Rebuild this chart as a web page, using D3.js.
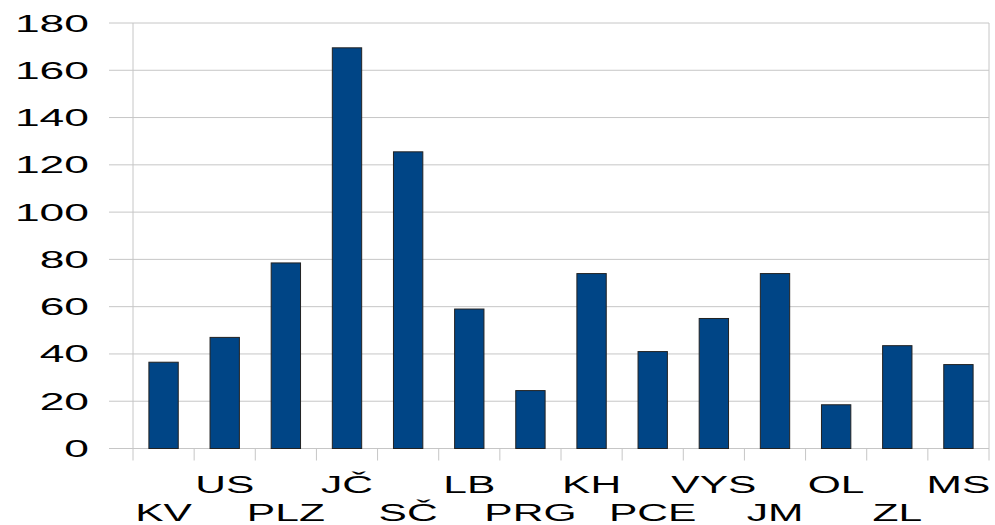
<!DOCTYPE html>
<html>
<head>
<meta charset="utf-8">
<script src="https://cdn.jsdelivr.net/npm/d3@7"></script>
<style>
  html, body { margin: 0; padding: 0; background: #fff; }
  svg { display: block; }
  text { font-family: "Liberation Sans", Arial, sans-serif; fill: #000; }
</style>
</head>
<body>
<svg id="chart"></svg>
<script>
const width = 995;
const height = 525;

const regions = ["KV", "US", "PLZ", "JČ", "SČ", "LB", "PRG", "KH", "PCE", "VYS", "JM", "OL", "ZL", "MS"];
const counts = [36.5, 47, 78.5, 169.5, 125.5, 59, 24.5, 74, 41, 55, 74, 18.5, 43.5, 35.5];
const yTicks = [0, 20, 40, 60, 80, 100, 120, 140, 160, 180];

const plotLeft = 133;
const plotRight = 989;
const plotTop = 23;
const plotBottom = 448.5;

const svg = d3.select("#chart").attr("width", width).attr("height", height);

const x = d3.scaleBand().domain(regions).range([plotLeft, plotRight]).paddingInner(0.52).paddingOuter(0.26);
const band = d3.scaleBand().domain(regions).range([plotLeft, plotRight]);
const y = d3.scaleLinear().domain([0, 180]).range([plotBottom, plotTop]);

// gridlines
svg.append("g")
  .selectAll("line")
  .data(yTicks)
  .join("line")
  .attr("x1", plotLeft - 24)
  .attr("x2", plotRight)
  .attr("y1", (d) => y(d))
  .attr("y2", (d) => y(d))
  .attr("stroke", "#c6c6c6")
  .attr("stroke-width", 1);

// frame lines
svg.append("line")
  .attr("x1", plotLeft).attr("x2", plotLeft)
  .attr("y1", plotTop).attr("y2", plotBottom + 12)
  .attr("stroke", "#c6c6c6");
svg.append("line")
  .attr("x1", plotRight).attr("x2", plotRight)
  .attr("y1", plotTop).attr("y2", plotBottom + 12)
  .attr("stroke", "#c6c6c6");

// category ticks
svg.append("g")
  .selectAll("line")
  .data(regions.slice(1))
  .join("line")
  .attr("x1", (d) => band(d))
  .attr("x2", (d) => band(d))
  .attr("y1", plotBottom)
  .attr("y2", plotBottom + 12)
  .attr("stroke", "#c6c6c6");

// bars
svg.append("g")
  .selectAll("rect")
  .data(regions)
  .join("rect")
  .attr("x", (d) => x(d))
  .attr("width", x.bandwidth())
  .attr("y", (d, i) => y(counts[i]))
  .attr("height", (d, i) => y(0) - y(counts[i]))
  .attr("fill", "#004586")
  .attr("stroke", "#222")
  .attr("stroke-width", 1);

// y labels
svg.append("g")
  .selectAll("text")
  .data(yTicks)
  .join("text")
  .attr("transform", (d) => `translate(89,${y(d) + 8.5}) scale(1.85,1)`)
  .attr("text-anchor", "end")
  .attr("font-size", 24)
  .text((d) => d);

// x labels, staggered in two rows
svg.append("g")
  .selectAll("text")
  .data(regions)
  .join("text")
  .attr("transform", (d, i) => {
    const cx = band(d) + band.bandwidth() / 2;
    const by = i % 2 === 1 ? 492.5 : 521;
    return `translate(${cx},${by}) scale(1.85,1)`;
  })
  .attr("text-anchor", "middle")
  .attr("font-size", 23)
  .text((d) => d);
</script>
</body>
</html>
